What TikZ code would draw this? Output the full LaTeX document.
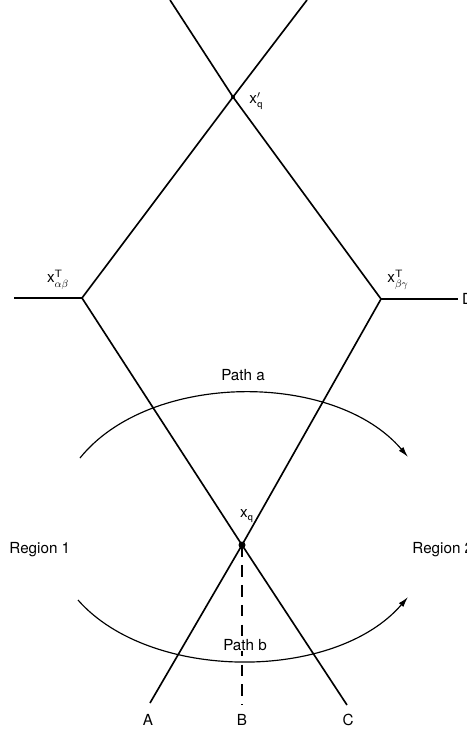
\documentclass[tikz,border=0pt]{standalone}
\usepackage{amsmath}
\usepackage{fontspec}
\setmainfont{TeX Gyre Heros}
\usetikzlibrary{arrows.meta,calc}

\begin{document}
\begin{tikzpicture}[x=0.03cm,y=-0.03cm]
			\tikzset{phase/.style={line width=1.4pt},
				path arrow/.style={line width=1pt,-{Latex[length=9pt,width=5pt]}},
				lbl/.style={font=\fontsize{13}{15}\selectfont,inner sep=1pt}}
			\useasboundingbox (0,0) rectangle (466,732);
			% points where the boundaries meet
			\coordinate (xqp) at (233,97);
			\coordinate (xab) at (82,298);
			\coordinate (xbg) at (381,299);
			\coordinate (xq) at (242,545);
			% free ends
			\coordinate (tl) at (170,0);
			\coordinate (tr) at (307,0);
			\coordinate (le) at (14,298);
			\coordinate (re) at (458,299);
			\coordinate (ea) at (150,703);
			\coordinate (eb) at (242,705);
			\coordinate (ec) at (347,705);
			% boundaries
			\draw[phase] (tl) -- (xqp) -- (xbg) -- (xq) -- (ea);
			\draw[phase] (tr) -- (xqp) -- (xab) -- (xq) -- (ec);
			\draw[phase] (le) -- (xab);
			\draw[phase] (xbg) -- (re);
			\draw[line width=1pt,dash pattern=on 10pt off 7pt] (xq) -- (eb);
			\fill (xq) circle (3.5);
			\fill (xqp) circle (2);
			% paths
			\coordinate (pa1) at (80,458);
			\coordinate (pa2) at (408,457);
			\coordinate (pb1) at (78,600);
			\coordinate (pb2) at (408,597);
			\draw[path arrow] (pa1) .. controls (150,371) and (335,371) .. (pa2);
			\draw[path arrow] (pb1) .. controls (150,682) and (335,682) .. (pb2);
			% labels
			\node[lbl,anchor=west] (lxqp) at (248,101) {x$'_{\mathsf{q}}$};
			\node[lbl] (lxab) at (58,280) {x$^{\mathsf{T}}_{\alpha\beta}$};
			\node[lbl] (lxbg) at (398,280) {x$^{\mathsf{T}}_{\beta\gamma}$};
			\node[lbl] (lxq) at (247,516) {x$_{\mathsf{q}}$};
			\node[lbl,anchor=west,inner sep=0pt] (lD) at (462,299) {D};
			\node[lbl] (lpa) at (243,375) {Path a};
			\node[lbl,fill=white,inner sep=0.5pt] (lpb) at (245,645) {Path b};
			\node[lbl,anchor=west] (lr1) at (8,550) {Region 1};
			\node[lbl,anchor=west] (lr2) at (411,550) {Region 2};
			\node[lbl] (lA) at (148,720) {A};
			\node[lbl] (lB) at (242,720) {B};
			\node[lbl] (lC) at (348,720) {C};
		\end{tikzpicture}
\end{document}
